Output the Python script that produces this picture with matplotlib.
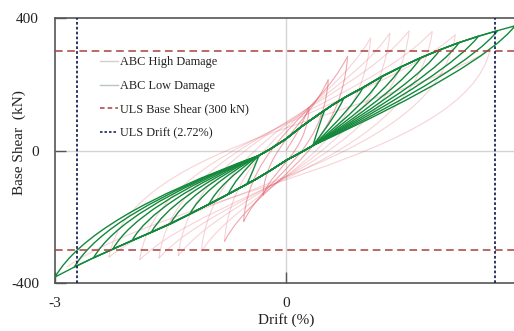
import matplotlib
matplotlib.use("Agg")
import matplotlib.pyplot as plt
from matplotlib.path import Path
from matplotlib.patches import PathPatch
from matplotlib.lines import Line2D

# ---- ABC Low Damage: loading envelopes (drift %, base shear kN) ----
env_pos_drift = [-0.35, -0.2, 0.0, 0.2, 0.4, 0.6, 0.8, 1.0, 1.25, 1.5, 1.75, 2.0, 2.25, 2.5, 2.75, 3.0]
env_pos_force = [-15, 5, 35, 72, 105, 137, 165, 190, 224, 253, 280, 304, 326, 345, 362, 378]
env_neg_drift = [0.35, 0.2, 0.0, -0.2, -0.4, -0.6, -0.8, -1.0, -1.25, -1.5, -1.75, -2.0, -2.25, -2.5, -2.75, -3.0]
env_neg_force = [15, -5, -30, -60, -88, -113, -138, -162, -192, -221, -247, -272, -298, -324, -352, -382]

# per-cycle peaks and unloading knees
low_amp = [0.5, 0.75, 1.0, 1.25, 1.5, 1.75, 2.0, 2.25, 2.5, 2.75, 3.0]
low_pos_peak = [120, 158, 190, 224, 253, 280, 304, 326, 345, 362, 378]
low_pos_knee_drift = [0.44, 0.66, 0.87, 1.08, 1.29, 1.50, 1.71, 1.92, 2.13, 2.34, 2.55]
low_pos_knee_force = [85, 108, 130, 150, 170, 188, 205, 220, 233, 242, 250]
low_neg_peak = [-98, -131, -162, -192, -221, -247, -272, -298, -324, -352, -382]
low_neg_knee_drift = [-0.44, -0.66, -0.87, -1.08, -1.29, -1.50, -1.71, -1.92, -2.13, -2.34, -2.55]
low_neg_knee_force = [-68, -85, -100, -114, -127, -140, -152, -163, -175, -188, -200]

# ---- ABC High Damage: cycle peaks ----
high_pos_drift = [0.3, 0.55, 0.8, 1.1, 1.35, 1.6, 1.9, 2.2, 2.65]
high_pos_force = [130, 215, 285, 340, 355, 362, 360, 350, 305]
high_neg_drift = [-0.3, -0.55, -0.8, -1.1, -1.4, -1.65, -1.9, -2.3, -2.85]
high_neg_force = [-135, -215, -275, -305, -318, -325, -330, -322, -352]

# design limits
uls_shear = 300
uls_drift = 2.72

x_ticks = [-3, 0, 3]
y_ticks = [-400, 0, 400]

GREEN = "#12893b"
RED = "#e0505f"
TXT = "#222222"

plt.rcParams["font.family"] = ["Liberation Serif", "DejaVu Serif"]
plt.rcParams["axes.unicode_minus"] = False

fig = plt.figure(figsize=(5.14, 3.31), dpi=100)
ax = fig.add_axes([55 / 514, 48 / 331, 462 / 514, 265 / 331])

# zero reference lines
ax.axhline(0, color="#d4d4d4", lw=1.0, zorder=1)
ax.axvline(0, color="#d4d4d4", lw=1.0, zorder=1)


def half_cycle(start, end):
    """Cubic segment: steep departure from one peak, rounder arrival at the next."""
    c1 = (0.88 * start[0], -0.1 * start[1])
    c2 = (0.5 * end[0], 0.35 * end[1])
    return [c1, c2, end], [Path.CURVE4] * 3


# high damage loops, one path per cycle; the early small cycles read stronger
prev = (0.0, 0.0)
for k, (pd, pf, nd, nf) in enumerate(zip(high_pos_drift, high_pos_force,
                                          high_neg_drift, high_neg_force)):
    verts = [prev]
    codes = [Path.MOVETO]
    for pk in [(pd, pf), (nd, nf)]:
        v, c = half_cycle(prev, pk)
        verts += v
        codes += c
        prev = pk
    ax.add_patch(PathPatch(Path(verts, codes), fill=False, edgecolor=RED,
                           lw=0.8, alpha=0.5 if k < 3 else 0.25, zorder=2))

# low damage loops: one continuous path per cycle
for i, a in enumerate(low_amp):
    verts, codes = [], []
    # reload along the positive envelope up to the peak
    seg = [(d, f) for d, f in zip(env_pos_drift, env_pos_force) if d < a]
    seg.append((a, low_pos_peak[i]))
    verts += seg
    codes += [Path.MOVETO] + [Path.LINETO] * (len(seg) - 1)
    # unload from the positive peak onto the start of the negative envelope
    verts += [(low_pos_knee_drift[i], low_pos_knee_force[i]), (env_neg_drift[0], env_neg_force[0])]
    codes += [Path.CURVE3, Path.CURVE3]
    # load along the negative envelope
    seg = [(d, f) for d, f in zip(env_neg_drift[1:], env_neg_force[1:]) if d > -a]
    seg.append((-a, low_neg_peak[i]))
    verts += seg
    codes += [Path.LINETO] * len(seg)
    # unload from the negative peak back to the start of the positive envelope
    verts += [(low_neg_knee_drift[i], low_neg_knee_force[i]), (env_pos_drift[0], env_pos_force[0])]
    codes += [Path.CURVE3, Path.CURVE3]
    ax.add_patch(PathPatch(Path(verts, codes), fill=False, edgecolor=GREEN,
                           lw=1.0, joinstyle="round", zorder=3))

# design limit lines
dash = (0, (5, 3))
dot = (0, (1.5, 1.2))
ax.axhline(uls_shear, color="#a8403c", lw=1.1, ls=dash, zorder=4)
ax.axhline(-uls_shear, color="#a8403c", lw=1.1, ls=dash, zorder=4)
ax.axvline(uls_drift, color="#1d2557", lw=1.3, ls=dot, zorder=4)
ax.axvline(-uls_drift, color="#1d2557", lw=1.3, ls=dot, zorder=4)

ax.set_xlim(x_ticks[0], x_ticks[-1])
ax.set_ylim(y_ticks[0], y_ticks[-1])
ax.set_xticks(x_ticks)
ax.set_yticks(y_ticks)
ax.tick_params(direction="in", length=8, width=1.0, color="#555555",
               labelsize=11, labelcolor=TXT)
ax.tick_params(axis="y", pad=11.5)
ax.tick_params(axis="x", pad=10)
for s in ax.spines.values():
    s.set_color("#555555")
    s.set_linewidth(1.2)

ax.set_xlabel("Drift (%)", fontsize=11, color=TXT, labelpad=2)
ax.set_ylabel("Base Shear  (kN)", fontsize=11, color=TXT)
ax.yaxis.set_label_coords(-0.062, 0.53)

handles = [
    Line2D([], [], color="#d9cccc", lw=1.0),
    Line2D([], [], color="#b5c9bb", lw=1.0),
    Line2D([], [], color="#a8403c", lw=1.1, ls=(0, (3, 2))),
    Line2D([], [], color="#1d2557", lw=1.2, ls=(0, (1.5, 1.2))),
]
labels = ["ABC High Damage", "ABC Low Damage", "ULS Base Shear (300 kN)", "ULS Drift (2.72%)"]
ax.legend(handles, labels, loc="upper left", bbox_to_anchor=(0.097, 0.855),
          frameon=False, fontsize=8.8, handlelength=1.5, handletextpad=0.15,
          labelspacing=0.95, borderpad=0, borderaxespad=0, labelcolor=TXT)

fig.savefig("out.png", dpi=100)
